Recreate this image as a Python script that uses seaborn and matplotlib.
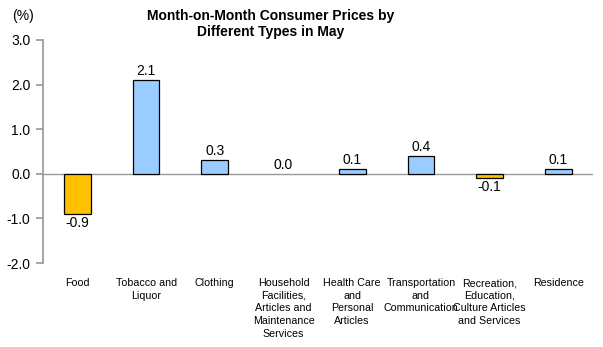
import matplotlib
matplotlib.use("Agg")
import matplotlib.pyplot as plt
import seaborn as sns
import pandas as pd
from matplotlib import font_manager

categories = ["Food", "Tobacco and\nLiquor", "Clothing",
              "Household\nFacilities,\nArticles and\nMaintenance\nServices",
              "Health Care\nand\nPersonal\nArticles", "Transportation\nand\nCommunication",
              "Recreation,\nEducation,\nCulture Articles\nand Services", "Residence"]
values = [-0.9, 2.1, 0.3, 0.0, 0.1, 0.4, -0.1, 0.1]
value_labels = ["-0.9", "2.1", "0.3", "0.0", "0.1", "0.4", "-0.1", "0.1"]
yticks = [-2.0, -1.0, 0.0, 1.0, 2.0, 3.0]

sns.set_theme(style="white", rc={"text.color": "black", "xtick.color": "black",
                                 "ytick.color": "black", "axes.labelcolor": "black"})
plt.rcParams['font.family'] = ['Liberation Sans', 'DejaVu Sans']

names = {f.name for f in font_manager.fontManager.ttflist}
narrow = "Liberation Sans Narrow" in names
title_family = ['Liberation Sans Narrow', 'Liberation Sans'] if narrow else ['Liberation Sans']
title_size = 11.5 if narrow else 10

df = pd.DataFrame({"cat": categories, "val": values})
colors = ["#FFC000" if v < 0 else "#99CCFF" for v in values]

fig = plt.figure(figsize=(6.03, 3.47), dpi=100)
ax = fig.add_axes([0.0713, 0.242, 0.9117, 0.643])
sns.barplot(data=df, x="cat", y="val", hue="cat", palette=colors, legend=False,
            width=0.39, edgecolor="black", linewidth=0.9, ax=ax, saturation=1)
for p in ax.patches:
    if abs(p.get_height()) < 1e-9:
        p.set_linewidth(0)

ax.set_xlim(-0.5, len(categories) - 0.5)
ax.set_ylim(-2.0, 3.0)
ax.set_yticks(yticks)
ax.set_yticklabels([f"{t:.1f}" for t in yticks], fontsize=10, color="black")
ax.axhline(0, color="#999999", lw=1, zorder=0.5)
for s in ["top", "right", "bottom"]:
    ax.spines[s].set_visible(False)
ax.spines["left"].set_color("#999999")
ax.tick_params(axis="y", which="both", left=True, length=5, color="#999999", pad=4)
ax.tick_params(axis="x", length=0, pad=11)
ax.set_xticks(range(len(categories)))
ax.set_xticklabels(categories, fontsize=7.7, linespacing=1.32, va="top", color="black")
ax.set_xlabel("")
ax.set_ylabel("")

for i, (v, lab) in enumerate(zip(values, value_labels)):
    if v < 0:
        ax.text(i, v - 0.05, lab, ha="center", va="top", fontsize=10, color="black")
    else:
        ax.text(i, v + 0.05, lab, ha="center", va="bottom", fontsize=10, color="black")

fig.text(0.02, 0.955, "(%)", fontsize=10, ha="left", va="center", color="black")
fig.text(0.449, 0.931, "Month-on-Month Consumer Prices by\nDifferent Types in May",
         fontsize=title_size, fontweight="bold", ha="center", va="center", linespacing=1.15,
         color="black", family=title_family)

fig.savefig("out.png", dpi=100)
